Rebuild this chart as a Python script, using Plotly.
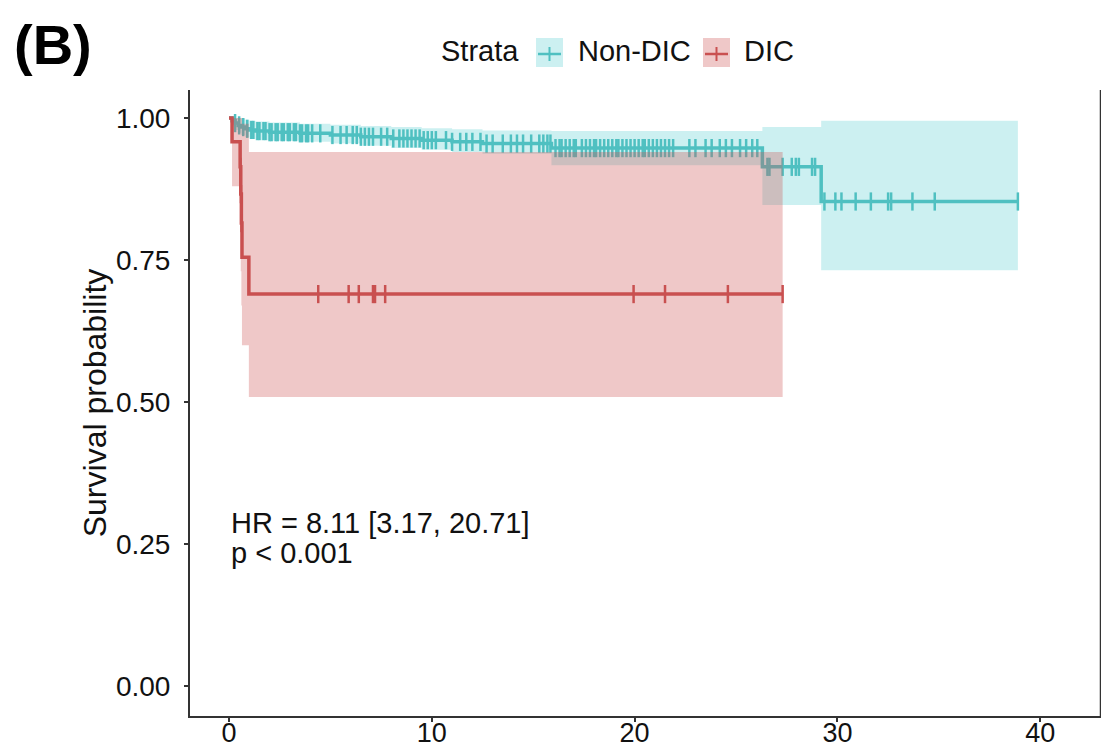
import numpy as np
import plotly.graph_objects as go

# ---------------- data ----------------
# Non-DIC Kaplan-Meier steps
nondic_time = [0, 0.15, 0.3, 0.45, 0.6, 0.8, 1.0, 1.3, 2.0, 3.5, 5.0, 6.5, 8.0, 9.5, 11.0, 12.5, 15.9, 26.3, 29.2]
nondic_surv = [1.0, 0.995, 0.991, 0.987, 0.984, 0.981, 0.979, 0.977, 0.975, 0.973, 0.970, 0.967, 0.964, 0.961,
               0.958, 0.955, 0.947, 0.914, 0.853]
nondic_upper = [1.0, 1.0, 1.0, 1.0, 0.999, 0.997, 0.995, 0.994, 0.992, 0.990, 0.988, 0.986, 0.984, 0.982,
                0.980, 0.978, 0.977, 0.984, 0.995]
nondic_lower = [1.0, 0.985, 0.979, 0.974, 0.970, 0.966, 0.963, 0.961, 0.960, 0.958, 0.955, 0.951, 0.947, 0.944,
                0.940, 0.937, 0.917, 0.847, 0.732]
nondic_end = 38.9
nondic_censor = [0.3, 0.5, 0.7, 0.9, 1.1, 1.2, 1.4, 1.5, 1.7, 1.8, 2.0, 2.1, 2.3, 2.4, 2.6, 2.7, 2.9, 3.0, 3.2,
                 3.3, 3.5, 3.6, 3.8, 3.9, 4.1, 4.5, 5.1, 5.5, 5.8, 6.1, 6.3, 6.5, 6.7, 6.9, 7.1, 7.5, 7.8, 8.1,
                 8.4, 8.6, 8.8, 9.0, 9.2, 9.4, 9.6, 9.8, 10.0, 10.2, 10.7, 11.0, 11.4, 11.7, 12.0, 12.4, 12.7,
                 13.0, 13.5, 13.9, 14.2, 14.5, 14.9, 15.3, 15.5, 15.7, 15.85, 16.1, 16.3, 16.4, 16.6, 16.8, 17.0,
                 17.1, 17.4, 17.6, 17.8, 18.0, 18.1, 18.3, 18.5, 18.7, 18.9, 19.1, 19.2, 19.4, 19.6, 19.8, 20.0,
                 20.2, 20.4, 20.5, 20.7, 20.9, 21.1, 21.3, 21.5, 21.7, 21.9, 22.7, 23.0, 23.5, 23.8, 24.2, 24.5,
                 24.8, 25.2, 25.5, 25.8, 26.05, 26.55, 26.65, 27.3, 27.75, 27.95, 28.1, 28.75, 28.9, 29.36, 29.9,
                 30.2, 30.9, 31.65, 32.5, 32.65, 33.7, 34.8, 38.9]

# DIC Kaplan-Meier steps
dic_time = [0, 0.15, 0.55, 0.58, 0.61, 0.64, 0.98]
dic_surv = [1.0, 0.958, 0.914, 0.866, 0.815, 0.755, 0.690]
dic_upper = [1.0, 1.0, 1.0, 1.0, 1.0, 0.99, 0.94]
dic_lower = [1.0, 0.88, 0.80, 0.73, 0.67, 0.60, 0.509]
dic_end = 27.3
dic_censor = [0.56, 0.59, 0.62, 4.4, 5.9, 6.4, 7.1, 7.2, 7.7, 19.95, 21.5, 24.6, 27.3]

strata_names = ["Non-DIC", "DIC"]
hr_text = "HR = 8.11 [3.17, 20.71]"
p_text = "p < 0.001"
panel_label = "(B)"

x_ticks = [0, 10, 20, 30, 40]
y_ticks = [0.0, 0.25, 0.5, 0.75, 1.0]
y_ticklabels = ["0.00", "0.25", "0.50", "0.75", "1.00"]

# ---------------- styles ----------------
TEAL = "#4FC0C1"
TEAL_FILL = "rgba(0,180,185,0.20)"
RED = "#C95050"
RED_FILL = "rgba(205,85,85,0.32)"
FONT = "Liberation Sans, Arial, Helvetica, sans-serif"

PAGE_W, PAGE_H = 1109, 750
OFF = 8  # page body margin
W, H = PAGE_W - OFF, PAGE_H - OFF
# plot panel in page pixels
PX0, PX1, PY0, PY1 = 190, 1101, 90, 716
L, T = PX0 - OFF, PY0 - OFF
R, B = W - (PX1 - OFF), H - (PY1 - OFF)
PW, PH = PX1 - PX0, PY1 - PY0


def px2x(px):
    return (px - PX0) / PW


def py2y(py):
    return (PY1 - py) / PH


def step_value(times, vals, t):
    i = np.searchsorted(np.asarray(times), t, side="right") - 1
    return np.asarray(vals)[i]


fig = go.Figure()


def add_group(times, surv, upper, lower, end, censor, color, fill):
    tt = list(times) + [end]
    up = list(upper) + [upper[-1]]
    lo = list(lower) + [lower[-1]]
    ss = list(surv) + [surv[-1]]
    # confidence band
    fig.add_trace(go.Scatter(x=tt, y=lo, mode="lines", line=dict(width=0, shape="hv"),
                             showlegend=False, hoverinfo="skip"))
    fig.add_trace(go.Scatter(x=tt, y=up, mode="lines", line=dict(width=0, shape="hv"),
                             fill="tonexty", fillcolor=fill, showlegend=False, hoverinfo="skip"))
    # survival curve
    fig.add_trace(go.Scatter(x=tt, y=ss, mode="lines", line=dict(color=color, width=3.5, shape="hv"),
                             showlegend=False))
    # censor marks
    cy = [step_value(times, surv, c) for c in censor]
    fig.add_trace(go.Scatter(x=censor, y=cy, mode="markers",
                             marker=dict(symbol="line-ns", size=13, line=dict(color=color, width=2.5)),
                             showlegend=False))


add_group(nondic_time, nondic_surv, nondic_upper, nondic_lower, nondic_end, nondic_censor, TEAL, TEAL_FILL)
add_group(dic_time, dic_surv, dic_upper, dic_lower, dic_end, dic_censor, RED, RED_FILL)

annotations = [
    dict(x=0, y=0.287, xref="x", yref="y", text=hr_text, showarrow=False, xanchor="left", yanchor="middle",
         font=dict(size=29, color="#111", family=FONT)),
    dict(x=0, y=0.234, xref="x", yref="y", text=p_text, showarrow=False, xanchor="left", yanchor="middle",
         font=dict(size=29, color="#111", family=FONT)),
    dict(x=px2x(12), y=py2y(44), xref="paper", yref="paper", text="<b>" + panel_label + "</b>", showarrow=False,
         xanchor="left", yanchor="middle", font=dict(size=56, color="#000", family=FONT)),
    # legend
    dict(x=px2x(521), y=py2y(51), xref="paper", yref="paper", text="Strata", showarrow=False,
         xanchor="right", yanchor="middle", font=dict(size=29, color="#111", family=FONT)),
    dict(x=px2x(576), y=py2y(51), xref="paper", yref="paper", text=strata_names[0], showarrow=False,
         xanchor="left", yanchor="middle", font=dict(size=29, color="#111", family=FONT)),
    dict(x=px2x(742), y=py2y(51), xref="paper", yref="paper", text=strata_names[1], showarrow=False,
         xanchor="left", yanchor="middle", font=dict(size=29, color="#111", family=FONT)),
]

shapes = [
    # right panel border
    dict(type="line", xref="paper", yref="paper", x0=1, x1=1, y0=0, y1=1, line=dict(color="#333", width=2.5)),
]
for (x0, x1, lc, fc) in [(536, 563, TEAL, TEAL_FILL), (703, 730, RED, RED_FILL)]:
    cx = (x0 + x1) / 2
    shapes.append(dict(type="rect", xref="paper", yref="paper", x0=px2x(x0), x1=px2x(x1),
                       y0=py2y(67), y1=py2y(38), fillcolor=fc, line=dict(width=0)))
    shapes.append(dict(type="line", xref="paper", yref="paper", x0=px2x(x0 + 2), x1=px2x(x1 - 2),
                       y0=py2y(54), y1=py2y(54), line=dict(color=lc, width=2.5)))
    shapes.append(dict(type="line", xref="paper", yref="paper", x0=px2x(cx), x1=px2x(cx),
                       y0=py2y(47), y1=py2y(61), line=dict(color=lc, width=2)))

fig.update_layout(
    width=W, height=H,
    margin=dict(l=L, r=R, t=T, b=B, pad=0, autoexpand=False),
    paper_bgcolor="white", plot_bgcolor="white",
    font=dict(family=FONT, color="#111"),
    showlegend=False,
    annotations=annotations,
    shapes=shapes,
    xaxis=dict(range=[(PX0 - 229) / 20.28, (PX1 - 229) / 20.28], tickvals=x_ticks, automargin=False,
               ticks="outside", ticklen=4, tickwidth=2, tickcolor="#333",
               showline=True, linecolor="#333", linewidth=2, showgrid=False, zeroline=False,
               tickfont=dict(size=27, color="#111"), ticklabelstandoff=-12),
    yaxis=dict(range=[-30 / 568, 1 + 28 / 568], tickvals=y_ticks, ticktext=y_ticklabels, automargin=False,
               ticks="outside", ticklen=4, tickwidth=2, tickcolor="#333",
               showline=True, linecolor="#333", linewidth=2, mirror=True, showgrid=False, zeroline=False,
               tickfont=dict(size=28, color="#111"), ticklabelstandoff=8,
               title=dict(text="Survival probability", font=dict(size=32, color="#111"), standoff=0)),
)

fig.write_html("out.html")
